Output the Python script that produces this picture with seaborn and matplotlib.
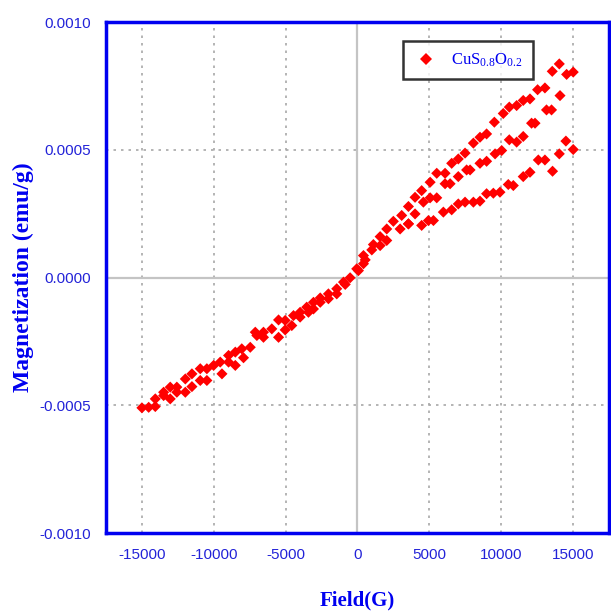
import matplotlib
matplotlib.use("Agg")
import matplotlib.pyplot as plt
from matplotlib.ticker import MultipleLocator, FormatStrFormatter
import numpy as np
import pandas as pd
import seaborn as sns

# Field sweep 0 -> -15 kG (descending branch)
neg_desc_field = [-510, -970, -1440, -2020, -2590, -3060, -3530, -3990, -4450, -5030,
                  -5490, -5960, -6540, -7000, -7110, -8050, -8500, -8970, -9550, -10010,
                  -10480, -10940, -11520, -11980, -12570, -13030, -13490, -14070, -14530, -15000]
neg_desc_m = [-0.000001, -0.000018, -0.000044, -0.000064, -0.000080, -0.000097, -0.000116, -0.000136, -0.000149, -0.000168,
              -0.000166, -0.000201, -0.000214, -0.000227, -0.000214, -0.000279, -0.000292, -0.000305, -0.000331, -0.000344,
              -0.000357, -0.000357, -0.000377, -0.000397, -0.000429, -0.000429, -0.000449, -0.000475, -0.000508, -0.000510]

# Field sweep -15 kG -> 0 (ascending branch)
neg_asc_field = [-14070, -13490, -13030, -12570, -11980, -11520, -10940, -10480, -9430, -8970,
                 -8500, -7930, -7460, -6540, -5490, -5030, -4570, -3990, -3410, -3060,
                 -2590, -2020, -1440, -850, -50, 70]
neg_asc_m = [-0.000505, -0.000462, -0.000475, -0.000449, -0.000449, -0.000427, -0.000403, -0.000403, -0.000377, -0.000331,
             -0.000344, -0.000314, -0.000273, -0.000234, -0.000234, -0.000205, -0.000188, -0.000155, -0.000136, -0.000123,
             -0.000097, -0.000083, -0.000064, -0.000027, 0.000034, 0.000027]

# Positive field, upper branch
pos_upper_field = [420, 1000, 1580, 2040, 2500, 3080, 3550, 4010, 4470, 5060,
                   5520, 6100, 6560, 7020, 7490, 8070, 8530, 8990, 9530, 10150,
                   10570, 11080, 11540, 12010, 12540, 13050, 13560, 14050, 14560, 15020]
pos_upper_m = [0.000086, 0.000108, 0.000160, 0.000190, 0.000220, 0.000243, 0.000278, 0.000314, 0.000340, 0.000373,
               0.000408, 0.000408, 0.000447, 0.000464, 0.000487, 0.000526, 0.000549, 0.000562, 0.000608, 0.000642,
               0.000667, 0.000673, 0.000693, 0.000699, 0.000735, 0.000742, 0.000807, 0.000836, 0.000795, 0.000804]

# Positive field, middle branch
pos_mid_field = [420, 540, 1110, 1580, 2040, 2970, 3550, 4010, 4590, 5060,
                 5520, 6100, 6450, 7020, 7600, 7840, 8530, 8990, 9580, 10040,
                 10570, 11080, 11540, 12120, 12360, 13160, 13510, 14100]
pos_mid_m = [0.000054, 0.000069, 0.000129, 0.000125, 0.000145, 0.000190, 0.000210, 0.000249, 0.000295, 0.000312,
             0.000312, 0.000367, 0.000367, 0.000395, 0.000421, 0.000421, 0.000447, 0.000455, 0.000484, 0.000497,
             0.000539, 0.000530, 0.000552, 0.000604, 0.000604, 0.000656, 0.000656, 0.000712]

# Positive field, lower branch
pos_low_field = [3550, 4470, 4940, 5290, 5980, 6560, 7020, 7490, 8070, 8530,
                 8990, 9460, 9920, 10500, 10850, 11540, 12010, 12590, 13050, 13580,
                 14050, 14510, 15020]
pos_low_m = [0.000210, 0.000204, 0.000223, 0.000223, 0.000256, 0.000265, 0.000288, 0.000295, 0.000295, 0.000299,
             0.000328, 0.000330, 0.000334, 0.000364, 0.000360, 0.000395, 0.000412, 0.000460, 0.000460, 0.000416,
             0.000484, 0.000534, 0.000501]

sample_label = r"$\mathrm{CuS}_{0.8}\mathrm{O}_{0.2}$"

fields = neg_desc_field + neg_asc_field + pos_upper_field + pos_mid_field + pos_low_field
moments = neg_desc_m + neg_asc_m + pos_upper_m + pos_mid_m + pos_low_m
df = pd.DataFrame({"Field": fields, "Magnetization": moments,
                   "Sample": [sample_label] * len(fields)})

sns.set_style("white")
plt.rcParams["axes.unicode_minus"] = False
plt.rcParams["mathtext.fontset"] = "custom"
plt.rcParams["mathtext.rm"] = "Liberation Serif"
plt.rcParams["mathtext.it"] = "Liberation Serif:italic"

BLUE = "#0000F0"
TICK_BLUE = "#2323D8"

fig = plt.figure(figsize=(6.11, 6.15), dpi=100)
ax = fig.add_axes([0.1735, 0.1333, 0.823, 0.8309])

sns.scatterplot(data=df, x="Field", y="Magnetization", hue="Sample",
                palette=["#FF0000"], marker="D", s=32, linewidth=0, ax=ax, zorder=3)

ax.set_xlim(-17500, 17500)
ax.set_ylim(-0.001, 0.001)
ax.xaxis.set_major_locator(MultipleLocator(5000))
ax.xaxis.set_minor_locator(MultipleLocator(2500))
ax.yaxis.set_major_locator(MultipleLocator(0.0005))
ax.yaxis.set_minor_locator(MultipleLocator(0.00025))
ax.yaxis.set_major_formatter(FormatStrFormatter("%.4f"))
ax.xaxis.set_major_formatter(FormatStrFormatter("%d"))

ax.grid(True, which="major", linestyle=(0, (1.5, 3)), color="#a8a8a8", linewidth=1.2)
ax.axhline(0, color="#c4c4c4", linewidth=1.6, zorder=1)
ax.axvline(0, color="#c4c4c4", linewidth=1.6, zorder=1)

for sp in ax.spines.values():
    sp.set_color(BLUE)
    sp.set_linewidth(2.5)

ax.tick_params(which="major", direction="out", length=7, width=2, color=BLUE,
               labelcolor=TICK_BLUE, labelsize=11, pad=4)
ax.tick_params(which="minor", direction="out", length=4, width=2, color=BLUE)
for lab in ax.get_xticklabels() + ax.get_yticklabels():
    lab.set_fontfamily("Liberation Sans")

ax.set_xlabel("Field(G)", fontfamily="Liberation Serif", fontweight="bold",
              fontsize=15, color=BLUE, labelpad=20)
ax.set_ylabel("Magnetization (emu/g)", fontfamily="Liberation Serif", fontweight="bold",
              fontsize=17, color=BLUE, labelpad=4)

leg = ax.legend(loc="upper left", bbox_to_anchor=(0.59, 0.963), borderaxespad=0,
                frameon=True, fancybox=False, fontsize=12, handletextpad=0.7,
                handlelength=1.6, borderpad=0.6, markerscale=1.0)
leg.get_frame().set_edgecolor("black")
leg.get_frame().set_linewidth(1.8)
for t in leg.get_texts():
    t.set_color(BLUE)

fig.savefig("out.png", dpi=100)
